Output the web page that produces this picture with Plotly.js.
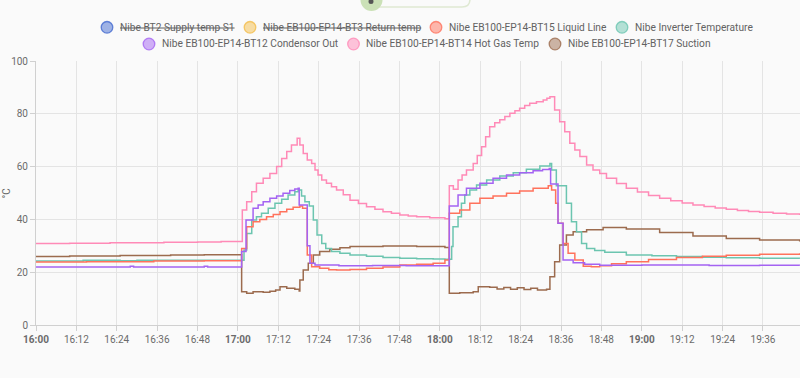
<!DOCTYPE html>
<html>
<head>
<meta charset="utf-8">
<script src="https://cdn.plot.ly/plotly-3.0.1.min.js"></script>
<style>
html,body{margin:0;padding:0;background:#fafafa;}
#chart{width:800px;height:378px;}
</style>
</head>
<body>
<div id="chart"></div>
<script>
// Times are minutes after 16:00
const hotGasT = [0,10,22,38,48,55,61.3,62.6,64.1,65.5,67.5,69.5,71.5,73.0,74.5,75.9,77.6,78.4,79.4,80.6,81.9,82.9,83.8,84.9,86.3,87.8,89.3,91.3,93.3,95.8,98.2,100.7,103.1,105.6,108.1,110.6,113.1,117,121.5,122.8,124.0,125.4,126.6,127.9,129.9,131.1,132.4,133.6,134.8,136.3,137.8,139.3,140.8,142.3,143.7,145.2,146.7,148.7,150.7,151.8,152.7,154.1,155.6,157.1,158.6,160.1,161.6,163.6,165.5,167.5,169.5,172.5,175.4,178.7,182,185.3,188.6,192,195.2,198.5,201.8,205.1,208.4,211.7,215,219,223,226.9];
const hotGasV = [30.9,31.0,31.2,31.3,31.4,31.6,43.6,46.7,50.5,53.7,55.6,57.4,60.0,63.1,65.7,68.2,70.7,68.2,65.0,62.5,61.2,58.7,56.8,54.9,53.7,52.4,51.1,49.3,47.3,46.0,44.8,43.8,42.9,42.3,41.7,41.3,41.0,40.6,40.2,52.7,51.4,54.9,56.8,58.7,61.2,64.2,67.5,71.3,75.1,76.6,77.7,79.0,80.2,81.2,82.1,83.1,84.0,84.6,85.2,85.9,86.5,81.4,77.0,73.2,68.8,66.3,63.8,60.6,58.7,57.4,55.6,53.6,51.8,50.4,49.1,48.0,47.1,46.2,45.5,44.9,44.3,43.8,43.4,43.0,42.7,42.3,42.0,41.7];

const condT = [0,28,29,50,51,61.1,62.4,64.5,66.0,67.5,69.5,71.5,73.4,75.4,76.9,77.9,78.2,80.6,81.4,82.9,90,100,110,122.8,125.4,127.9,131.9,135.8,139.8,143.7,147.7,150.5,152.5,152.9,155.1,156.6,159.6,163,167.5,180,200,215,226.9];
const condV = [22.0,22.3,22.0,22.3,22.0,27.8,39.8,44.2,45.5,46.7,48.0,48.9,49.9,50.9,51.5,51.8,45.5,30.0,23.4,22.7,22.4,22.5,22.4,45.1,49.2,51.8,53.7,55.6,56.8,57.7,58.4,58.9,59.3,53.4,38.5,24.6,23.6,23.0,22.6,22.7,22.5,22.6,22.5];

const liquidT = [0,15,35,50,61.1,62.6,64.5,66.5,68.5,70.5,72.5,74.5,76.4,78.4,79.2,80.6,81.9,84.3,87,89.3,93.3,98.2,103.1,108.1,113.1,118.0,121.5,122.8,125.9,128.9,131.9,135.8,139.8,143.7,147.7,152.2,153.2,154.4,155.1,156.6,158.1,160.1,162.6,165,167.5,171,175.4,182,190.3,198,205.1,215,226.9];
const liquidV = [23.9,24.0,24.2,24.3,29.0,37.2,39.1,40.0,41.0,41.9,42.9,43.8,44.6,45.1,44.2,26.5,22.1,21.5,20.9,20.8,21.0,21.5,22.0,22.7,23.0,23.4,24.6,42.3,43.6,46.1,48.0,48.9,49.9,50.8,51.8,52.7,51.1,46.1,38.5,30.9,27.2,24.6,22.3,22.1,22.4,23.2,24.0,24.8,25.6,26.0,26.4,26.8,27.2];

const inverterT = [0,14,25,30,61.8,62.6,64.1,65.5,67.0,69.0,71.0,73.0,74.9,76.9,77.9,78.9,79.9,81.2,82.4,83.5,84.9,86.1,87.8,90.3,93.3,98.2,103.1,108.1,113.1,118,121.5,123.5,123.9,125.4,126.4,127.4,128.9,130.9,133.9,137.8,141.8,145.7,149.7,152.7,153.2,154.6,157.6,159.1,160.6,162.1,163.6,166,169,175.4,183,190.3,198,205.1,215,226.9];
const inverterV = [24.2,24.5,24.3,24.5,28.4,34.7,39.8,41.0,42.3,44.2,46.1,47.6,49.2,50.5,51.1,48.9,46.7,45.1,39.8,34.1,30.9,29.0,27.8,27.2,26.5,26.0,25.6,25.3,25.1,25.0,24.9,29.7,37.2,41.0,46.1,49.2,51.1,53.0,54.9,56.4,57.7,59.0,60.2,61.2,58.7,52.7,46.1,39.1,35.3,30.9,29.0,28.2,27.6,26.5,26.2,25.9,25.7,25.5,25.3,25.1];

const suctionT = [0,10,25,40,50,61.1,62.6,64.5,67.5,69.5,71.2,72.5,74.5,76.9,78.2,78.4,79.4,80.9,82.4,84.3,87.3,90.3,93.3,103.1,113.1,121.5,122.8,125.9,129.9,131.4,134.8,137,139,141,143,145,147,149,151.7,152.7,154.1,155.6,157.6,159.6,163.6,168.5,175.4,185.3,195.2,205.1,215,226.9];
const suctionV = [25.9,26.1,26.3,26.5,26.6,12.6,12.0,12.6,12.4,12.8,13.3,14.5,13.9,13.5,12.9,17.0,20.8,23.4,26.5,27.8,28.7,29.3,29.7,29.9,29.7,29.4,12.0,12.2,12.6,14.5,14.3,13.6,14.2,13.5,14.1,13.4,13.9,13.3,13.5,18.3,24.0,30.3,34.1,35.3,36.1,36.9,36.4,35.0,33.7,32.8,32.2,31.6];

// Legend entries (two centred rows, as in the reference)
const legendRow1 = ['Nibe BT2 Supply temp S1','Nibe EB100-EP14-BT3 Return temp','Nibe EB100-EP14-BT15 Liquid Line','Nibe Inverter Temperature'];
const legendRow2 = ['Nibe EB100-EP14-BT12 Condensor Out','Nibe EB100-EP14-BT14 Hot Gas Temp','Nibe EB100-EP14-BT17 Suction'];
const hiddenNames = ['Nibe BT2 Supply temp S1','Nibe EB100-EP14-BT3 Return temp'];

const tickMinutes = [0,12,24,36,48,60,72,84,96,108,120,132,144,156,168,180,192,204,216];
const tickLabels = ['16:00','16:12','16:24','16:36','16:48','17:00','17:12','17:24','17:36','17:48','18:00','18:12','18:24','18:36','18:48','19:00','19:12','19:24','19:36'];

const colors = {
  'Nibe BT2 Supply temp S1':'#4269d0',
  'Nibe EB100-EP14-BT3 Return temp':'#f4bd4a',
  'Nibe EB100-EP14-BT15 Liquid Line':'#ff725c',
  'Nibe Inverter Temperature':'#6cc5b0',
  'Nibe EB100-EP14-BT12 Condensor Out':'#a463f2',
  'Nibe EB100-EP14-BT14 Hot Gas Temp':'#ff8ab7',
  'Nibe EB100-EP14-BT17 Suction':'#9c6b4e'
};

function toTime(m){
  const sec = Math.round(m*60);
  const h = 16 + Math.floor(sec/3600);
  const mi = Math.floor((sec%3600)/60);
  const s = sec%60;
  const p = n => String(n).padStart(2,'0');
  return '2024-01-01 ' + p(h) + ':' + p(mi) + ':' + p(s);
}
function hexA(hex,a){
  const r=parseInt(hex.slice(1,3),16),g=parseInt(hex.slice(3,5),16),b=parseInt(hex.slice(5,7),16);
  return 'rgba('+r+','+g+','+b+','+a+')';
}

const series = [
  ['Nibe EB100-EP14-BT14 Hot Gas Temp', hotGasT, hotGasV],
  ['Nibe EB100-EP14-BT17 Suction', suctionT, suctionV],
  ['Nibe Inverter Temperature', inverterT, inverterV],
  ['Nibe EB100-EP14-BT15 Liquid Line', liquidT, liquidV],
  ['Nibe EB100-EP14-BT12 Condensor Out', condT, condV]
];

const data = series.map(([name,t,v]) => ({
  type:'scatter', mode:'lines', name:name,
  x:t.map(toTime), y:v,
  line:{shape:'hv', color:colors[name], width:1.5},
  showlegend:false, hoverinfo:'x+y'
}));

// pixel -> paper helpers (plot area: x 36..800, y 61..325)
const P = px => (px-36)/764;
const Q = py => (325-py)/264;

const annotations = [{
  text:'°C', xref:'paper', yref:'paper', x:P(3), xshift:-5, y:Q(193), textangle:-90,
  showarrow:false, font:{family:'Roboto', size:10, color:'#6b6b6b'}
}];
const shapes = [
  {type:'path', xref:'paper', yref:'paper',
   path:'M '+P(376)+','+Q(7)+' L '+P(462)+','+Q(7)+' Q '+P(470)+','+Q(7)+' '+P(470)+','+Q(-1)+' L '+P(470)+','+Q(-12),
   line:{color:'#dfe9d2', width:1.5}},
  {type:'circle', xref:'paper', yref:'paper', x0:P(360.5), x1:P(382.5), y0:Q(11), y1:Q(-11),
   fillcolor:'#cbe1b7', line:{width:0}},
  {type:'circle', xref:'paper', yref:'paper', x0:P(368.5), x1:P(373.5), y0:Q(4), y1:Q(-1),
   fillcolor:'#555555', line:{width:0}}
];

// legend layout: circle centre x positions per row
const row1X = [107, 250, 436, 622];
const row2X = [149, 353.5, 555];
function addLegend(names, xs, yPx){
  names.forEach((name,i) => {
    const cx = xs[i], c = colors[name];
    shapes.push({type:'circle', xref:'paper', yref:'paper',
      x0:P(cx-5.8), x1:P(cx+5.8), y0:Q(yPx+5.8), y1:Q(yPx-5.8),
      fillcolor:hexA(c,0.5), line:{color:hexA(c,0.8), width:1.3}});
    const hidden = hiddenNames.includes(name);
    annotations.push({
      text: hidden ? '<span style="text-decoration:line-through">'+name+'</span>' : name,
      xref:'paper', yref:'paper', x:P(cx+10.5), y:Q(yPx), xanchor:'left', yanchor:'middle',
      showarrow:false, font:{family:'Roboto', size:10.2, color:'#626262'}
    });
  });
}
addLegend(legendRow1, row1X, 27.3);
addLegend(legendRow2, row2X, 44);

const layout = {
  width:800, height:378,
  margin:{l:36, r:0, t:61, b:53},
  paper_bgcolor:'#fafafa', plot_bgcolor:'#fafafa',
  font:{family:'Roboto', color:'#6b6b6b', size:10},
  showlegend:false,
  xaxis:{
    type:'date',
    range:[toTime(0), toTime(227)],
    tickvals:tickMinutes.map(toTime),
    ticktext:tickLabels.map(l => l.endsWith(':00') ? '<b>'+l+'</b>' : l),
    ticks:'outside', ticklen:5, tickcolor:'#d0d0d0',
    showgrid:true, gridcolor:'#e4e4e4', gridwidth:1,
    showline:true, linecolor:'#d0d0d0', linewidth:1,
    zeroline:false, tickfont:{family:'Roboto', size:10, color:'#6b6b6b'}
  },
  yaxis:{
    range:[0,100], tickvals:[0,20,40,60,80,100],
    ticks:'outside', ticklen:5, tickcolor:'#d0d0d0',
    showgrid:true, gridcolor:'#e4e4e4', gridwidth:1,
    showline:true, linecolor:'#d0d0d0', linewidth:1,
    zeroline:false, tickfont:{family:'Roboto', size:10, color:'#6b6b6b'}
  },
  annotations:annotations,
  shapes:shapes
};

Plotly.newPlot('chart', data, layout, {displayModeBar:false});
</script>
</body>
</html>
